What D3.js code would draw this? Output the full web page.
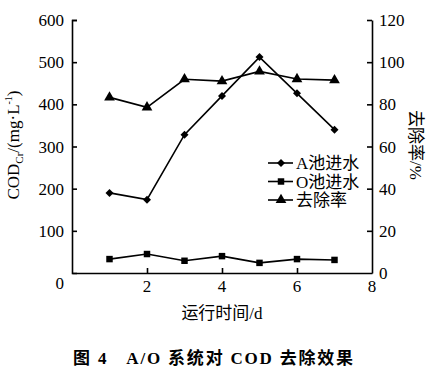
<!DOCTYPE html>
<html>
<head>
<meta charset="utf-8">
<script src="https://cdn.jsdelivr.net/npm/d3@7"></script>
<style>
body { margin: 0; background: #fff; }
svg { font-family: "Liberation Serif", "Noto Sans CJK SC", serif; }
</style>
</head>
<body>
<script>
var days = [1, 2, 3, 4, 5, 6, 7];
var aInflow = [190, 174, 328, 420, 512, 426, 340];
var oInflow = [33, 45, 29, 40, 24, 33, 31];
var removal = [83.3, 78.6, 91.9, 91, 95.6, 92, 91.5];
var xTicks = [2, 4, 6, 8];
var leftTicks = [0, 100, 200, 300, 400, 500, 600];
var rightTicks = [0, 20, 40, 60, 80, 100, 120];
var legendNames = ["A池进水", "O池进水", "去除率"];

var width = 430, height = 373;
var svg = d3.select("body").append("svg")
    .attr("width", width)
    .attr("height", height);

var x = d3.scaleLinear().domain([0, 8]).range([72, 372]);
var yL = d3.scaleLinear().domain([0, 600]).range([273, 20]);
var yR = d3.scaleLinear().domain([0, 120]).range([273, 20]);

// axes, ticks pointing inward
var bottom = svg.append("g")
    .attr("transform", "translate(0,273)")
    .call(d3.axisTop(x).tickValues(xTicks).tickSize(5).tickSizeOuter(0).tickFormat(""));
bottom.selectAll(".tick").filter(function(d){ return d == 8; }).select("line").remove();

var left = svg.append("g")
    .attr("transform", "translate(72,0)")
    .call(d3.axisRight(yL).tickValues(leftTicks).tickSize(5).tickSizeOuter(5).tickFormat(""));
left.selectAll(".tick").filter(function(d){ return d == 0; }).select("line").remove();

var right = svg.append("g")
    .attr("transform", "translate(372,0)")
    .call(d3.axisLeft(yR).tickValues(rightTicks).tickSize(5).tickSizeOuter(0).tickFormat(""));
right.selectAll(".tick").filter(function(d){ return d == 0; }).select("line").remove();

svg.selectAll(".domain, .tick line").attr("stroke", "#000").attr("stroke-width", 1.6);

// tick labels
svg.append("g").selectAll("text")
    .data(xTicks)
    .join("text")
    .attr("x", function(d){ return x(d); })
    .attr("y", 292)
    .attr("text-anchor", "middle")
    .attr("font-size", 17)
    .text(function(d){ return d; });

svg.append("g").selectAll("text")
    .data(leftTicks)
    .join("text")
    .attr("x", 64)
    .attr("y", function(d){ return yL(d) + (d == 0 ? 16 : 6); })
    .attr("text-anchor", "end")
    .attr("font-size", 17)
    .text(function(d){ return d; });

svg.append("g").selectAll("text")
    .data(rightTicks)
    .join("text")
    .attr("x", 379)
    .attr("y", function(d){ return yR(d) + 6; })
    .attr("text-anchor", "start")
    .attr("font-size", 17)
    .text(function(d){ return d; });

// series
var line = d3.line();
function drawLine(vals, yScale) {
  svg.append("path")
    .attr("d", line(days.map(function(d, i){ return [x(d), yScale(vals[i])]; })))
    .attr("fill", "none")
    .attr("stroke", "#000")
    .attr("stroke-width", 1.6);
}
drawLine(aInflow, yL);
drawLine(oInflow, yL);
drawLine(removal, yR);

var diamond = d3.symbol().type(d3.symbolSquare).size(32);
var square = d3.symbol().type(d3.symbolSquare).size(42);
var triangle = d3.symbol().type(d3.symbolTriangle).size(50);
var rot = ["rotate(45)", "", ""];

function drawMarks(vals, yScale, sym, r) {
  svg.append("g").selectAll("path")
    .data(vals)
    .join("path")
    .attr("d", sym)
    .attr("transform", function(d, i){ return "translate(" + x(days[i]) + "," + yScale(d) + ")" + r; })
    .attr("fill", "#000");
}
drawMarks(aInflow, yL, diamond, rot[0]);
drawMarks(oInflow, yL, square, rot[1]);
drawMarks(removal, yR, triangle, rot[2]);

// legend
var legendSyms = [diamond, square, triangle];
var lg = svg.append("g").selectAll("g")
    .data(legendNames)
    .join("g")
    .attr("transform", function(d, i){ return "translate(268," + (163 + i * 18.5) + ")"; });
lg.append("line")
    .attr("x1", 0).attr("x2", 25)
    .attr("stroke", "#000").attr("stroke-width", 1.6);
lg.append("path")
    .attr("d", function(d, i){ return legendSyms[i](); })
    .attr("transform", function(d, i){ return "translate(13,0)" + rot[i]; })
    .attr("fill", "#000");
lg.append("text")
    .attr("x", 28)
    .attr("y", 6)
    .attr("font-size", 17)
    .text(function(d){ return d; });

// axis titles
var yt = svg.append("text")
    .attr("transform", "translate(19,145) rotate(-90)")
    .attr("text-anchor", "middle")
    .attr("font-size", 17);
yt.append("tspan").text("COD");
yt.append("tspan").attr("font-size", 11).attr("dy", 4).text("Cr");
yt.append("tspan").attr("dy", -4).text("/(mg·L");
yt.append("tspan").attr("font-size", 10).attr("dy", -7).text("-1");
yt.append("tspan").attr("dy", 7).text(")");

svg.append("text")
    .attr("transform", "translate(410,145) rotate(90)")
    .attr("text-anchor", "middle")
    .attr("font-size", 17)
    .text("去除率/%");

svg.append("text")
    .attr("x", 222)
    .attr("y", 319)
    .attr("text-anchor", "middle")
    .attr("font-size", 17)
    .text("运行时间/d");

svg.append("text")
    .attr("x", 214)
    .attr("y", 364)
    .attr("text-anchor", "middle")
    .attr("font-size", 17)
    .attr("font-weight", "bold")
    .attr("letter-spacing", 1.8)
    .style("white-space", "pre")
    .text("图 4   A/O 系统对 COD 去除效果");
</script>
</body>
</html>
